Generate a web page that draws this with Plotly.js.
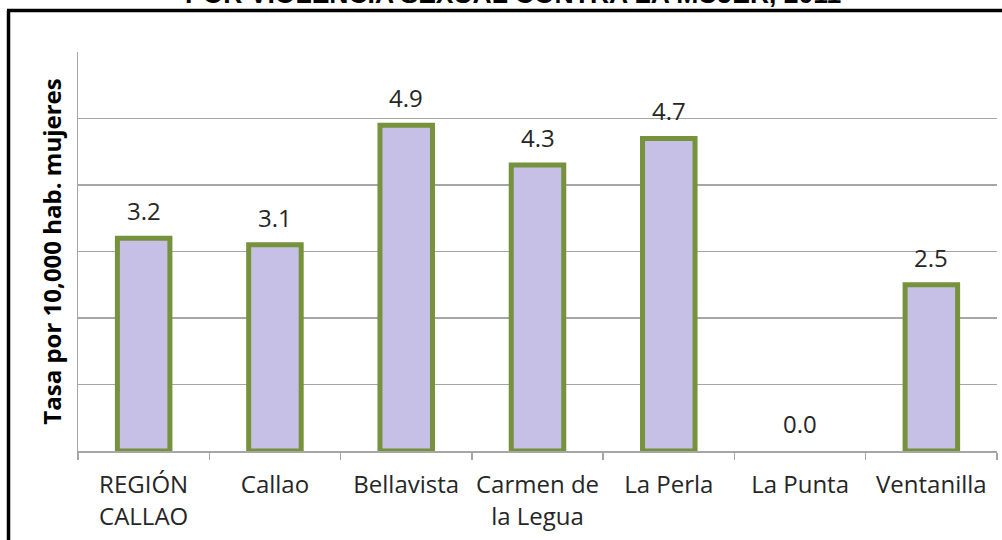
<!DOCTYPE html>
<html>
<head>
<meta charset="utf-8">
<script src="https://cdn.plot.ly/plotly-3.0.1.min.js"></script>
<style>html,body{margin:0;padding:0;background:#fff;}#chart{width:1002px;height:540px;}</style>
</head>
<body>
<div id="chart"></div>
<script>
const categories = ["REGIÓN<br>CALLAO", "Callao", "Bellavista", "Carmen de<br>la Legua", "La Perla", "La Punta", "Ventanilla"];
const values = [3.2, 3.1, 4.9, 4.3, 4.7, 0.0, 2.5];
const valueLabels = ["3.2", "3.1", "4.9", "4.3", "4.7", "0.0", "2.5"];
const titleText = "POR VIOLENCIA SEXUAL CONTRA LA MUJER, 2011";
const yTitle = "Tasa por 10,000 hab. mujeres";

const L = 78, R = 5, T = 52, B = 89;
const W = 1002, H = 540;
const pw = W - L - R, ph = H - T - B;
const px = x => (x - L) / pw;
const py = y => 1 - (y - T) / ph;
const FONT = "'Open Sans', 'Noto Sans', sans-serif";

const trace = {
  type: "bar",
  x: categories,
  y: values,
  width: 0.4,
  marker: { color: "#C6BFE6", line: { color: "#76923C", width: values.map(v => v > 0 ? 5 : 0) } },
  hoverinfo: "none"
};

const annotations = categories.map((c, i) => ({
  x: c, y: values[i], xref: "x", yref: "y",
  text: valueLabels[i], showarrow: false,
  yanchor: "bottom", yshift: 9,
  font: { family: FONT, size: 24, color: "#262626" }
}));
annotations.push({
  xref: "paper", yref: "paper", x: px(513), y: py(4),
  xanchor: "center", yanchor: "bottom", yshift: -7,
  text: "<b>" + titleText + "</b>", showarrow: false,
  font: { family: "'Liberation Sans', Arial, sans-serif", size: 26.5, color: "#000" }
});

const layout = {
  width: W, height: H,
  margin: { l: L, r: R, t: T, b: B, pad: 0 },
  paper_bgcolor: "#fff", plot_bgcolor: "#fff",
  showlegend: false,
  bargap: 0.6,
  xaxis: {
    type: "category",
    showgrid: false,
    showline: true, linecolor: "#A6A6A6", linewidth: 1.5,
    ticks: "outside", tickson: "boundaries", ticklen: 7, tickcolor: "#A6A6A6", tickwidth: 1.5,
    ticklabelstandoff: 12,
    tickangle: 0,
    tickfont: { family: FONT, size: 24, color: "#262626" },
    automargin: false
  },
  yaxis: {
    range: [0, 6], dtick: 1, tick0: 0,
    showgrid: true, gridcolor: "#A6A6A6", gridwidth: 1.2,
    showline: true, linecolor: "#A6A6A6", linewidth: 1.5,
    showticklabels: false, ticks: "", zeroline: false,
    title: { text: "<b>" + yTitle + "</b>", standoff: 8,
      font: { family: FONT, size: 24, color: "#000" } },
    automargin: false
  },
  annotations: annotations,
  shapes: [
    { type: "line", xref: "paper", yref: "paper", x0: px(8.5), x1: px(8.5), y0: py(10.5), y1: py(560),
      line: { color: "#000", width: 3.5 } },
    { type: "line", xref: "paper", yref: "paper", x0: px(7), x1: px(1010), y0: py(10.5), y1: py(10.5),
      line: { color: "#000", width: 3.5 } }
  ]
};

Plotly.newPlot("chart", [trace], layout, { displayModeBar: false, staticPlot: true });
</script>
</body>
</html>
